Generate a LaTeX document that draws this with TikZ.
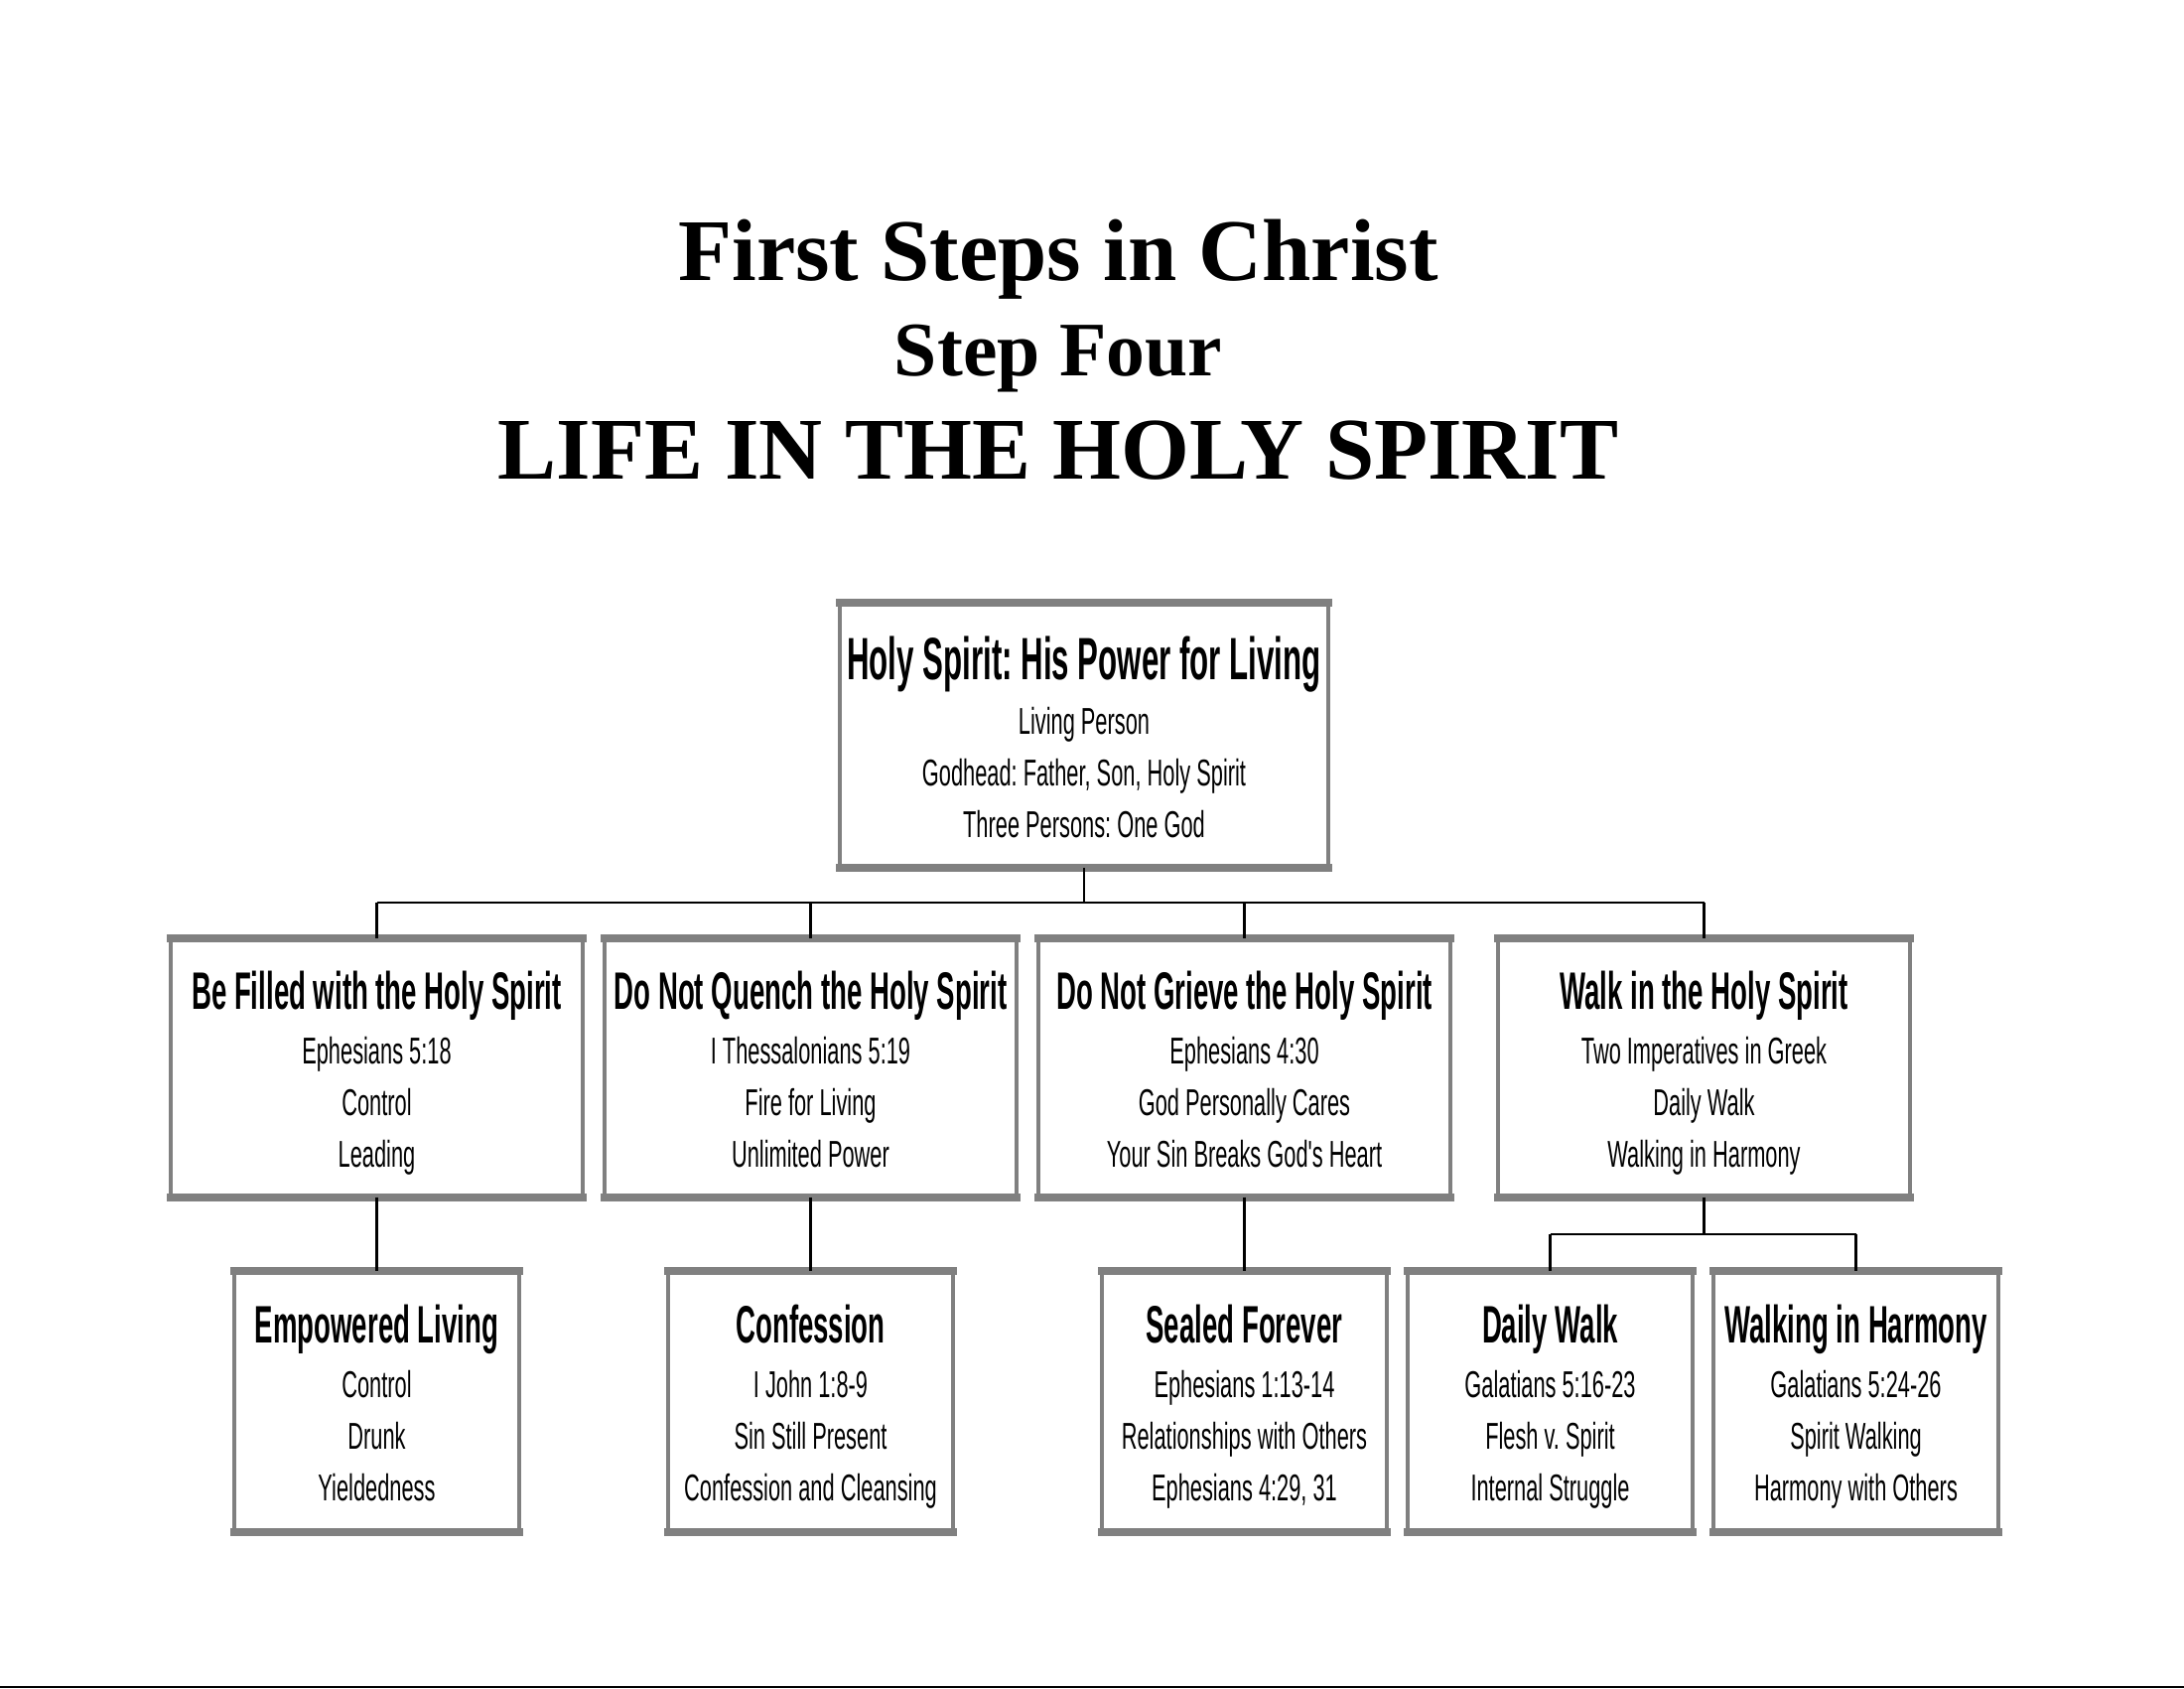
\documentclass[tikz,border=0pt]{standalone}
\usepackage{fontspec}
\usepackage{tikz}
\setmainfont{Liberation Serif}
\newfontfamily\boxhead[FakeStretch=0.52]{Liberation Sans}
\newfontfamily\boxbody[FakeStretch=0.58]{Liberation Sans}
\definecolor{boxgray}{RGB}{128,128,128}
\frenchspacing
\newcommand{\cardtext}[5]{{\boxhead\bfseries\fontsize{#1}{#1}\selectfont\rule{0pt}{0.92em}#2}\\[0.9pt] #3\\ #4\\ #5\vphantom{g}}

\begin{document}
\begin{tikzpicture}[
    card/.style={draw=boxgray, line width=1.1pt, fill=white, inner sep=1pt, align=center,
      font=\boxbody\fontsize{10.7}{14.8}\selectfont},
    topcard/.style={card, minimum width=4.92cm, minimum height=2.63cm},
    midcard/.style={card, minimum width=4.15cm, minimum height=2.57cm},
    lowcard/.style={card, minimum width=2.87cm, minimum height=2.59cm},
    rim/.style={draw=boxgray, line width=2.3pt, shorten <=-0.55pt, shorten >=-0.55pt},
    link/.style={draw=black, line width=0.6pt}
  ]
  \useasboundingbox (0,0) rectangle (22,17);

  \node[anchor=base, font=\bfseries\fontsize{25.2}{30}\selectfont] (first) at (10.66,14.17) {First Steps in Christ};
  \node[anchor=base, font=\bfseries\fontsize{22.1}{26}\selectfont] (stepfour) at (10.66,13.21) {Step Four};
  \node[anchor=base, font=\bfseries\fontsize{25.2}{30}\selectfont] (life) at (10.66,12.17) {LIFE IN THE HOLY SPIRIT};

  \node[topcard] (power) at (10.92,9.595) {\cardtext{17.1}{Holy Spirit: His Power for Living}{Living Person}{Godhead: Father, Son, Holy Spirit}{Three Persons: One God}};

  \node[midcard] (filled) at (3.795,6.245) {\cardtext{15.1}{Be Filled with the Holy Spirit}{Ephesians 5:18}{Control}{Leading}};
  \node[midcard] (quench) at (8.165,6.245) {\cardtext{15.1}{Do Not Quench the Holy Spirit}{I Thessalonians 5:19}{Fire for Living}{Unlimited Power}};
  \node[midcard] (grieve) at (12.535,6.245) {\cardtext{15.1}{Do Not Grieve the Holy Spirit}{Ephesians 4:30}{God Personally Cares}{Your Sin Breaks God's Heart}};
  \node[midcard] (walk) at (17.165,6.245) {\cardtext{15.1}{Walk in the Holy Spirit}{Two Imperatives in Greek}{Daily Walk}{Walking in Harmony}};

  \node[lowcard] (empower) at (3.795,2.885) {\cardtext{15.1}{Empowered Living}{Control}{Drunk}{Yieldedness}};
  \node[lowcard] (confess) at (8.165,2.885) {\cardtext{15.1}{Confession}{I John 1:8-9}{Sin Still Present}{Confession and Cleansing}};
  \node[lowcard] (sealed) at (12.535,2.885) {\cardtext{15.1}{Sealed Forever}{Ephesians 1:13-14}{Relationships with Others}{Ephesians 4:29, 31}};
  \node[lowcard] (daily) at (15.615,2.885) {\cardtext{15.1}{Daily Walk}{Galatians 5:16-23}{Flesh v. Spirit}{Internal Struggle}};
  \node[lowcard] (harmony) at (18.695,2.885) {\cardtext{15.1}{Walking in Harmony}{Galatians 5:24-26}{Spirit Walking}{Harmony with Others}};

  \foreach \n in {power,filled,quench,grieve,walk,empower,confess,sealed,daily,harmony} {
    \draw[rim] (\n.north west) -- (\n.north east);
    \draw[rim] (\n.south west) -- (\n.south east);
  }

  \coordinate (upperbar) at (10.92,7.91);
  \coordinate (lowerbar) at (17.165,4.57);
  \draw[link] (power.south) -- (upperbar);
  \draw[link] (filled.north |- upperbar) -- (walk.north |- upperbar);
  \foreach \n in {filled,quench,grieve,walk}
    \draw[link] (upperbar -| \n.north) -- (\n.north);
  \draw[link] (filled.south) -- (empower.north);
  \draw[link] (quench.south) -- (confess.north);
  \draw[link] (grieve.south) -- (sealed.north);
  \draw[link] (walk.south) -- (lowerbar);
  \draw[link] (daily.north |- lowerbar) -- (harmony.north |- lowerbar);
  \foreach \n in {daily,harmony}
    \draw[link] (lowerbar -| \n.north) -- (\n.north);

  \draw[line width=0.6pt] (0,0.01) -- (22,0.01);
\end{tikzpicture}
\end{document}
